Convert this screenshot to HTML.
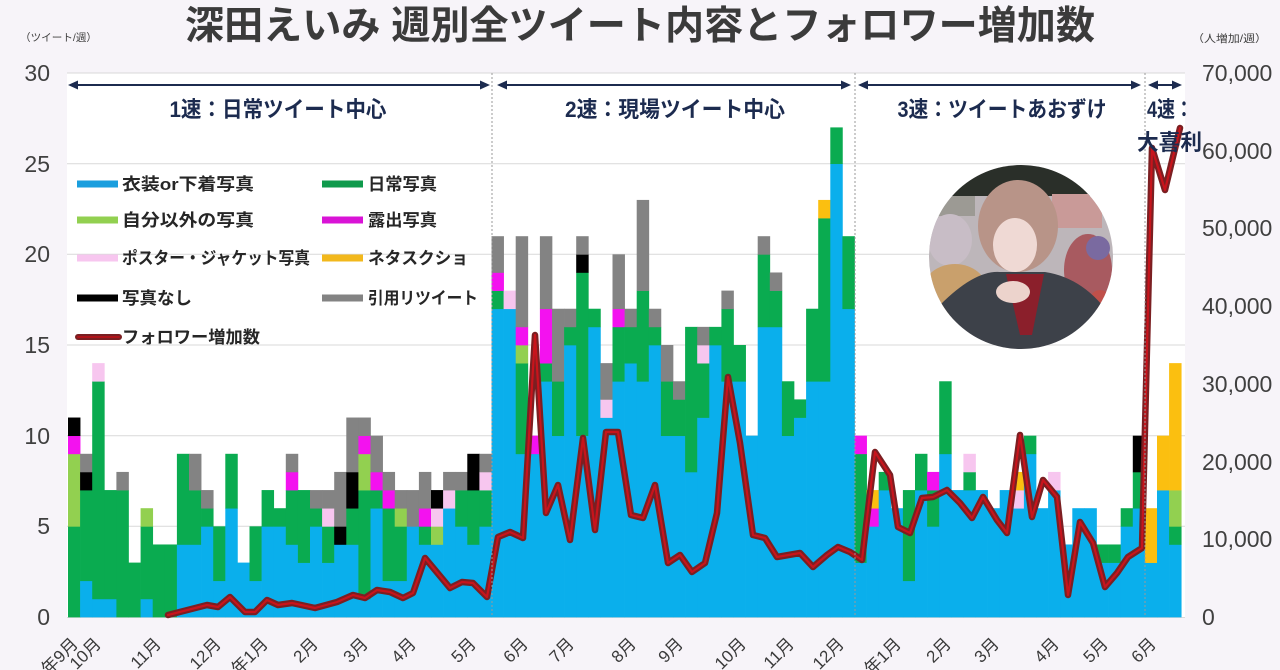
<!DOCTYPE html>
<html><head><meta charset="utf-8">
<style>
html,body{margin:0;padding:0;background:#f7f4f9;}
body{width:1280px;height:670px;overflow:hidden;}
svg{display:block;}
text{font-family:"Liberation Sans","Noto Sans CJK JP",sans-serif;}
</style></head>
<body>
<svg id="s" width="1280" height="670" viewBox="0 0 1280 670" xmlns="http://www.w3.org/2000/svg">
<rect x="0" y="0" width="1280" height="670" fill="#f7f4f9"/>
<rect x="67" y="73" width="1118" height="544" fill="#ffffff"/>
<g stroke="#d9d9d9" stroke-width="1">
<line x1="67" y1="73" x2="1185" y2="73"/>
<line x1="67" y1="163.7" x2="1185" y2="163.7"/>
<line x1="67" y1="254.3" x2="1185" y2="254.3"/>
<line x1="67" y1="345" x2="1185" y2="345"/>
<line x1="67" y1="435.7" x2="1185" y2="435.7"/>
<line x1="67" y1="526.3" x2="1185" y2="526.3"/>
<line x1="67" y1="617.5" x2="1185" y2="617.5"/>
</g>
<g id="bars"></g>
<g fill="none" stroke-linejoin="round" stroke-linecap="round">
<polyline stroke="#7b1f22" stroke-width="6.5" points="168,615 207,605 218,607 230,597 245,612 255,612 267,600 278,605 292,603 315,608 337,602 353,595 365,598 377,590 390,592 403,598 413,593 425,558 450,588 462,582 473,583 487,597 498,537 510,532 523,538 535,335 546,513 558,485 570,540 583,438 595,530 606,432 618,432 631,515 643,518 655,485 668,563 680,555 692,572 705,563 717,513 728,377 740,443 753,535 765,538 777,557 800,553 813,567 827,555 838,547 850,552 862,560 875,452 890,475 898,527 910,533 922,498 933,497 947,490 960,503 972,518 983,497 997,520 1007,533 1020,435 1032,517 1043,480 1057,497 1068,595 1080,522 1093,543 1105,587 1117,573 1128,557 1142,548 1152,148 1165,190 1180,128"/>
<polyline stroke="#c8141c" stroke-width="2.2" points="168,615 207,605 218,607 230,597 245,612 255,612 267,600 278,605 292,603 315,608 337,602 353,595 365,598 377,590 390,592 403,598 413,593 425,558 450,588 462,582 473,583 487,597 498,537 510,532 523,538 535,335 546,513 558,485 570,540 583,438 595,530 606,432 618,432 631,515 643,518 655,485 668,563 680,555 692,572 705,563 717,513 728,377 740,443 753,535 765,538 777,557 800,553 813,567 827,555 838,547 850,552 862,560 875,452 890,475 898,527 910,533 922,498 933,497 947,490 960,503 972,518 983,497 997,520 1007,533 1020,435 1032,517 1043,480 1057,497 1068,595 1080,522 1093,543 1105,587 1117,573 1128,557 1142,548 1152,148 1165,190 1180,128"/>
</g>
<g stroke="#9a9a9a" stroke-width="1" stroke-dasharray="2,2">
<line x1="492" y1="73" x2="492" y2="617"/>
<line x1="855" y1="73" x2="855" y2="617"/>
<line x1="1145" y1="73" x2="1145" y2="617"/>
</g>
<!-- arrows -->
<g stroke="#1c2b4f" stroke-width="2">
<line x1="74" y1="85" x2="484" y2="85"/>
<line x1="503" y1="85" x2="845" y2="85"/>
<line x1="864" y1="85" x2="1135" y2="85"/>
<line x1="1154" y1="85" x2="1176" y2="85"/>
</g>
<g fill="#1c2b4f">
<polygon points="68,85 78,80.5 78,89.5"/><polygon points="490,85 480,80.5 480,89.5"/>
<polygon points="497,85 507,80.5 507,89.5"/><polygon points="851,85 841,80.5 841,89.5"/>
<polygon points="858,85 868,80.5 868,89.5"/><polygon points="1141,85 1131,80.5 1131,89.5"/>
<polygon points="1148,85 1158,80.5 1158,89.5"/><polygon points="1182,85 1172,80.5 1172,89.5"/>
</g>
<g fill="#1c2b4f" font-weight="bold" font-size="22">
<text x="278" y="117" text-anchor="middle" textLength="217" lengthAdjust="spacingAndGlyphs">1速：日常ツイート中心</text>
<text x="675" y="117" text-anchor="middle" textLength="220" lengthAdjust="spacingAndGlyphs">2速：現場ツイート中心</text>
<text x="1002" y="117" text-anchor="middle" textLength="209" lengthAdjust="spacingAndGlyphs">3速：ツイートあおずけ</text>
<text x="1147" y="117" textLength="46" lengthAdjust="spacingAndGlyphs">4速：</text>
<text x="1137" y="150" textLength="65" lengthAdjust="spacingAndGlyphs">大喜利</text>
</g>
<!-- legend -->
<g>
<rect x="77" y="180.5" width="41" height="7" fill="#1a9ede"/>
<rect x="322" y="180.5" width="41" height="7" fill="#0f9a4c"/>
<rect x="77" y="216.5" width="41" height="7" fill="#92d050"/>
<rect x="322" y="216.5" width="41" height="7" fill="#d913d6"/>
<rect x="77" y="254.5" width="41" height="7" fill="#f7c6ef"/>
<rect x="322" y="254.5" width="41" height="7" fill="#f2b81c"/>
<rect x="77" y="294.5" width="41" height="7" fill="#000000"/>
<rect x="322" y="294.5" width="41" height="7" fill="#838383"/>
<line x1="78" y1="337" x2="119" y2="337" stroke="#7b1f22" stroke-width="6" stroke-linecap="round"/>
<line x1="78" y1="337" x2="119" y2="337" stroke="#b0141a" stroke-width="2" stroke-linecap="round"/>
</g>
<g fill="#262626" font-weight="bold" font-size="17">
<text x="122" y="190" textLength="132" lengthAdjust="spacingAndGlyphs">衣装or下着写真</text>
<text x="368" y="190" textLength="69" lengthAdjust="spacingAndGlyphs">日常写真</text>
<text x="122" y="226" textLength="132" lengthAdjust="spacingAndGlyphs">自分以外の写真</text>
<text x="368" y="226" textLength="69" lengthAdjust="spacingAndGlyphs">露出写真</text>
<text x="122" y="264" textLength="188" lengthAdjust="spacingAndGlyphs">ポスター・ジャケット写真</text>
<text x="368" y="264" textLength="100" lengthAdjust="spacingAndGlyphs">ネタスクショ</text>
<text x="122" y="304" textLength="70" lengthAdjust="spacingAndGlyphs">写真なし</text>
<text x="368" y="304" textLength="110" lengthAdjust="spacingAndGlyphs">引用リツイート</text>
<text x="122" y="343" textLength="138" lengthAdjust="spacingAndGlyphs">フォロワー増加数</text>
</g>
<!-- photo -->
<defs><clipPath id="pc"><circle cx="1021" cy="257" r="92"/></clipPath></defs>
<g clip-path="url(#pc)">
<rect x="926" y="162" width="192" height="192" fill="#bdb6ba"/>
<rect x="926" y="162" width="192" height="34" fill="#2a2f29"/>
<rect x="1052" y="194" width="50" height="34" fill="#c99a98"/>
<rect x="935" y="196" width="40" height="20" fill="#9c9a94"/>
<ellipse cx="950" cy="240" rx="22" ry="26" fill="#c8bdc6"/>
<ellipse cx="955" cy="290" rx="32" ry="26" fill="#c9a06c"/>
<ellipse cx="1088" cy="270" rx="24" ry="36" fill="#a85a60"/>
<circle cx="1098" cy="248" r="12" fill="#7a6aa0"/>
<circle cx="1076" cy="300" r="13" fill="#6c9a50"/>
<circle cx="1100" cy="300" r="10" fill="#c0504a"/>
<ellipse cx="1018" cy="226" rx="40" ry="46" fill="#b89488"/>
<ellipse cx="1015" cy="245" rx="22" ry="27" fill="#efd9d4"/>
<path d="M 990 232 Q 1015 196 1046 232 Q 1035 212 1016 212 Q 997 212 990 232 Z" fill="#b89488"/>
<path d="M 930 360 L 940 305 Q 975 270 1000 272 L 1045 272 Q 1085 278 1112 318 L 1115 360 Z" fill="#3d4149"/>
<polygon points="1006,274 1044,274 1032,335 1020,335" fill="#8b1f2b"/>
<ellipse cx="1013" cy="292" rx="17" ry="11" fill="#ecd3cc"/>
</g>
<!-- axis labels -->
<g fill="#404040" font-size="23" text-anchor="end">
<text x="50" y="625">0</text>
<text x="50" y="534">5</text>
<text x="50" y="444">10</text>
<text x="50" y="353">15</text>
<text x="50" y="262">20</text>
<text x="50" y="172">25</text>
<text x="50" y="81">30</text>
</g>
<g fill="#404040" font-size="23">
<text x="1202" y="625">0</text>
<text x="1202" y="547">10,000</text>
<text x="1202" y="470">20,000</text>
<text x="1202" y="392">30,000</text>
<text x="1202" y="314">40,000</text>
<text x="1202" y="236">50,000</text>
<text x="1202" y="159">60,000</text>
<text x="1202" y="81">70,000</text>
</g>
<text x="20" y="41" font-size="10.5" fill="#404040" textLength="77" lengthAdjust="spacingAndGlyphs">（ツイート/週）</text>
<text x="1192" y="42" font-size="10.5" fill="#404040" textLength="75" lengthAdjust="spacingAndGlyphs">（人増加/週）</text>
<!-- x labels -->
<g fill="#3a3a3a" font-size="17" text-anchor="end">
<text transform="translate(79,645) rotate(-45)">年9月</text>
<text transform="translate(102,645) rotate(-45)">10月</text>
<text transform="translate(162,645) rotate(-45)">11月</text>
<text transform="translate(222,645) rotate(-45)">12月</text>
<text transform="translate(269,645) rotate(-45)">年1月</text>
<text transform="translate(319,645) rotate(-45)">2月</text>
<text transform="translate(369,645) rotate(-45)">3月</text>
<text transform="translate(417,645) rotate(-45)">4月</text>
<text transform="translate(477,645) rotate(-45)">5月</text>
<text transform="translate(529,645) rotate(-45)">6月</text>
<text transform="translate(575,645) rotate(-45)">7月</text>
<text transform="translate(637,645) rotate(-45)">8月</text>
<text transform="translate(684,645) rotate(-45)">9月</text>
<text transform="translate(747,645) rotate(-45)">10月</text>
<text transform="translate(795,645) rotate(-45)">11月</text>
<text transform="translate(845,645) rotate(-45)">12月</text>
<text transform="translate(902,645) rotate(-45)">年1月</text>
<text transform="translate(952,645) rotate(-45)">2月</text>
<text transform="translate(1000,645) rotate(-45)">3月</text>
<text transform="translate(1060,645) rotate(-45)">4月</text>
<text transform="translate(1109,645) rotate(-45)">5月</text>
<text transform="translate(1157,645) rotate(-45)">6月</text>
</g>
<text x="640" y="39" text-anchor="middle" font-size="39" font-weight="bold" fill="#3b3b3b" textLength="910" lengthAdjust="spacingAndGlyphs">深田えいみ 週別全ツイート内容とフォロワー増加数</text>
</svg>
<script>
(function(){
var D=[
[0,5,4,1,0,0,1,0],[2,5,0,0,0,0,1,1],[1,12,0,0,1,0,0,0],[1,6],[0,7,0,0,0,0,0,1],[0,3],[1,4,1],[0,4],[0,4],[4,5],
[4,3,0,0,0,0,0,2],[5,1,0,0,0,0,0,1],[2,3],[6,3],[3],[2,3],[5,2],[5,1],[4,3,0,1,0,0,0,1],[3,4],
[5,1,0,0,0,0,0,1],[3,2,0,0,1,0,0,1],[4,0,0,0,0,0,1,3],[4,2,0,0,0,0,2,3],[1,6,2,1,0,0,0,1],[6,1,0,1,0,0,0,2],[2,4,0,1,0,0,0,1],[2,3,1,0,0,0,0,1],[5,0,0,0,0,0,0,2],[4,1,0,1,0,0,0,2],
[4,0,1,0,1,0,1,0],[6,0,0,0,1,0,0,1],[5,2,0,0,0,0,0,1],[4,3,0,0,0,0,2,0],[5,2,0,0,1,0,0,1],
[17,1,0,1,0,0,0,2],[17,0,0,0,1],[9,5,1,1,0,0,0,5],[9,0,0,1],[13,1,0,3,0,0,0,4],[10,3,0,0,0,0,0,4],[15,1,0,0,0,0,0,1],[10,9,0,0,0,0,1,1],[16,1],[11,0,0,0,1,0,0,2],
[13,3,0,1,0,0,0,3],[14,2,0,0,0,0,0,1],[13,5,0,0,0,0,0,5],[15,1,0,0,0,0,0,1],[10,3,0,0,0,0,0,2],[10,2,0,0,0,0,0,1],[8,8],[11,3,0,0,1,0,0,1],[15,1],[13,4,0,0,0,0,0,1],
[13,2],[10],[16,4,0,0,0,0,0,1],[16,2,0,0,0,0,0,1],[10,3],[11,1],[13,4],[13,9,0,0,0,1],[25,2],[17,4],
[3,6,0,1],[5,0,0,1,0,1],[7,1],[6],[2,5],[7,2],[5,2,0,1],[9,4],[7],[7,1,0,0,1],
[7],[6],[7],[6,0,0,0,1,1],[9,1],[6],[7,0,0,0,1],[4],[6],[6],
[3,1],[3,1],[5,1],[6,2,0,0,0,0,2],
[3,0,0,0,0,3],[7,0,0,0,0,3],[4,1,2,0,0,7]
];
var C=['#0aafec','#0aab50','#92d050','#f312ef','#f7c6ef','#fbbf10','#000000','#838383'];
var ns='http://www.w3.org/2000/svg',U=544/30,W=12.1,X0=68,Y0=617;
var g=document.getElementById('bars');
D.forEach(function(b,i){var y=Y0;b.forEach(function(v,k){if(!v)return;var h=v*U;var r=document.createElementNS(ns,'rect');
r.setAttribute('x',(X0+i*W).toFixed(2));r.setAttribute('y',(y-h).toFixed(2));r.setAttribute('width',(W+0.35).toFixed(2));r.setAttribute('height',(h+0.35).toFixed(2));r.setAttribute('fill',C[k]);g.appendChild(r);y-=h;});});
})();
</script>
</body></html>
